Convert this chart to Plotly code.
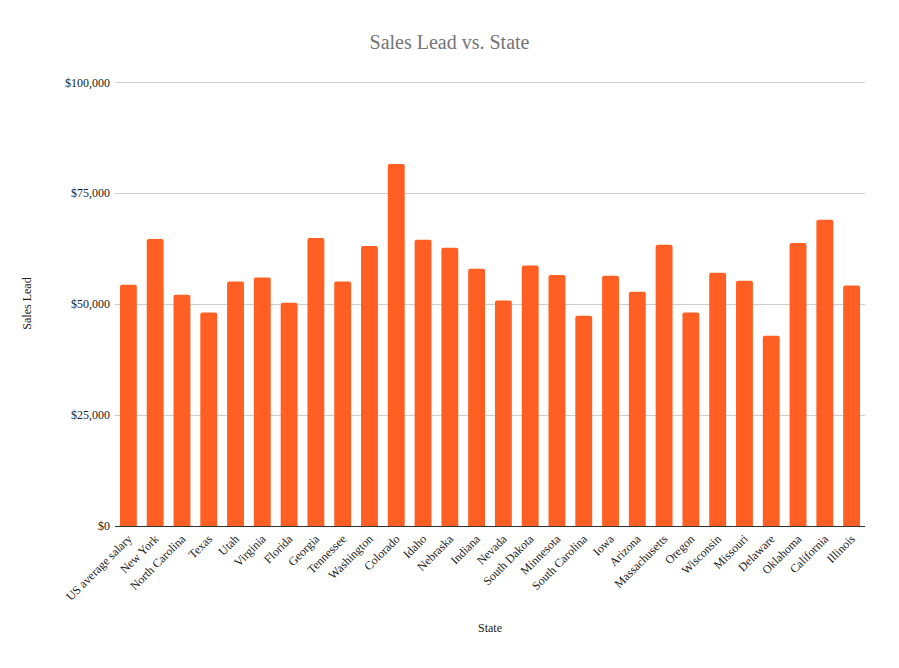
import plotly.graph_objects as go

states = ["US average salary", "New York", "North Carolina", "Texas", "Utah", "Virginia",
          "Florida", "Georgia", "Tennessee", "Washington", "Colorado", "Idaho", "Nebraska",
          "Indiana", "Nevada", "South Dakota", "Minnesota", "South Carolina", "Iowa",
          "Arizona", "Massachusetts", "Oregon", "Wisconsin", "Missouri", "Delaware",
          "Oklahoma", "California", "Illinois"]
sales_lead = [54400, 64700, 52100, 48100, 55100, 56000, 50300, 64900, 55100, 63100,
              81600, 64500, 62700, 58000, 50800, 58700, 56600, 47400, 56400, 52800,
              63400, 48100, 57100, 55300, 42900, 63800, 69000, 54200]
y_tick_vals = [0, 25000, 50000, 75000, 100000]
y_tick_text = ["$0", "$25,000", "$50,000", "$75,000", "$100,000"]

font_family = "Liberation Serif"

fig = go.Figure(go.Bar(
    x=states, y=sales_lead,
    marker=dict(color="#ff5f22", cornerradius=2, line=dict(width=0)),
    width=0.63,
))

fig.update_layout(
    width=899, height=668,
    paper_bgcolor="white", plot_bgcolor="white",
    margin=dict(l=115, r=34, t=81, b=142),
    title=dict(text="Sales Lead vs. State", x=0.5, xanchor="center", y=0.937, yanchor="middle",
               font=dict(family=font_family, size=20, color="#757575")),
    font=dict(family=font_family, size=12, color="#222"),
    showlegend=False,
    bargap=0.37,
)
fig.update_xaxes(
    title=dict(text="State", font=dict(family=font_family, size=12, color="#222"), standoff=21),
    tickangle=-45, tickfont=dict(family=font_family, size=12, color="#222"),
    showline=True, linecolor="#333", linewidth=1, showgrid=False, ticks="",
)
fig.update_yaxes(
    title=dict(text="Sales Lead", font=dict(family=font_family, size=12, color="#222"), standoff=30),
    range=[0, 100300], tickvals=y_tick_vals, ticktext=y_tick_text,
    tickfont=dict(family=font_family, size=12, color="#222"),
    ticklabelstandoff=4,
    showgrid=True, gridcolor="#cccccc", gridwidth=1, zeroline=False, showline=False, ticks="",
)

fig.write_html("out.html", config={"displayModeBar": False},
               post_script="document.body.style.margin='0';")
